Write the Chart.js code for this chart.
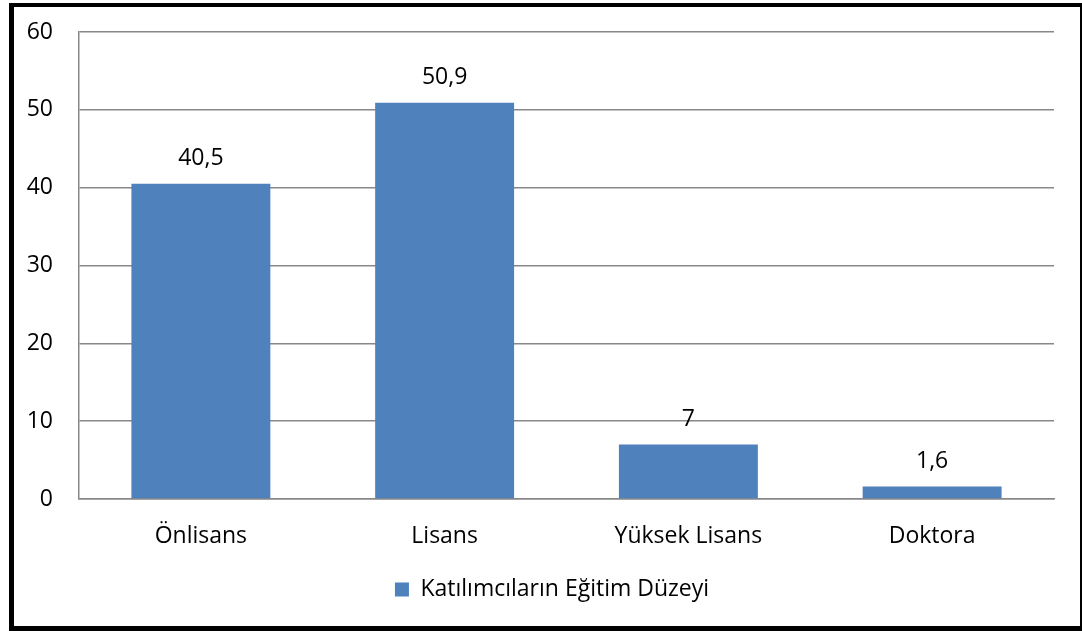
<!DOCTYPE html>
<html>
<head>
<meta charset="utf-8">
<script src="https://cdn.jsdelivr.net/npm/chart.js@4"></script>
<style>
  body { margin: 0; background: #fff; }
  #kutu {
    position: absolute; left: 9px; top: 3px;
    width: 1066px; height: 619px;
    border-style: solid; border-color: #000;
    border-width: 4px 2px 5px 5px;
  }
</style>
</head>
<body>
<div id="kutu"><canvas id="grafik" width="1066" height="619"></canvas></div>
<script>
var kategoriler = ['Önlisans', 'Lisans', 'Yüksek Lisans', 'Doktora'];
var degerler = [40.5, 50.9, 7, 1.6];
var seriAdi = 'Katılımcıların Eğitim Düzeyi';
var yTikler = [0, 10, 20, 30, 40, 50, 60];

var yazi = "'Open Sans', sans-serif";
var boyut = 23;
var mavi = '#4F81BD';
var gri = '#888888';

// bar ustune deger yaz (virgullu)
var etiketPlugin = {
    id: 'etiketler',
    afterLayout: function(chart) {
        // legend excel'deki gibi biraz saga
        chart.legend.left += 18;
        chart.legend.right += 18;
    },
    afterDatasetsDraw: function(chart) {
        var ctx = chart.ctx;
        var meta = chart.getDatasetMeta(0);
        ctx.save();
        ctx.font = boyut + 'px ' + yazi;
        ctx.fillStyle = '#000';
        ctx.textAlign = 'center';
        ctx.textBaseline = 'alphabetic';
        meta.data.forEach(function(bar, i) {
            var metin = String(degerler[i]).replace('.', ',');
            ctx.fillText(metin, bar.x, bar.y - 19);
        });
        ctx.restore();
    }
};

new Chart(document.getElementById('grafik'), {
    type: 'bar',
    data: {
        labels: kategoriler,
        datasets: [{
            label: seriAdi,
            data: degerler,
            backgroundColor: mavi,
            borderWidth: 0,
            barPercentage: 0.57,
            categoryPercentage: 1
        }]
    },
    options: {
        responsive: false,
        animation: false,
        layout: { padding: { top: 25, right: 26, bottom: 15, left: 0 } },
        plugins: {
            legend: {
                position: 'bottom',
                labels: {
                    font: { family: yazi, size: boyut },
                    color: '#000',
                    boxWidth: 14,
                    boxHeight: 14,
                    padding: 10
                }
            },
            tooltip: { enabled: false }
        },
        scales: {
            x: {
                grid: { display: false, drawTicks: false },
                border: { color: gri, width: 1.5 },
                ticks: { font: { family: yazi, size: boyut }, color: '#000', padding: 24 },
                afterFit: function(s) { s.height = 69; }
            },
            y: {
                min: 0, max: 60,
                afterBuildTicks: function(s) { s.ticks = yTikler.map(function(v) { return { value: v }; }); },
                grid: { color: gri, lineWidth: 1.5, drawTicks: false },
                border: { color: gri, width: 1.5 },
                ticks: { font: { family: yazi, size: boyut }, color: '#000', padding: 26 },
                afterFit: function(s) {
                    s.width = 65;
                    s.paddingTop = 0;
                    s.paddingBottom = 0;
                }
            }
        }
    },
    plugins: [etiketPlugin]
});
</script>
</body>
</html>
